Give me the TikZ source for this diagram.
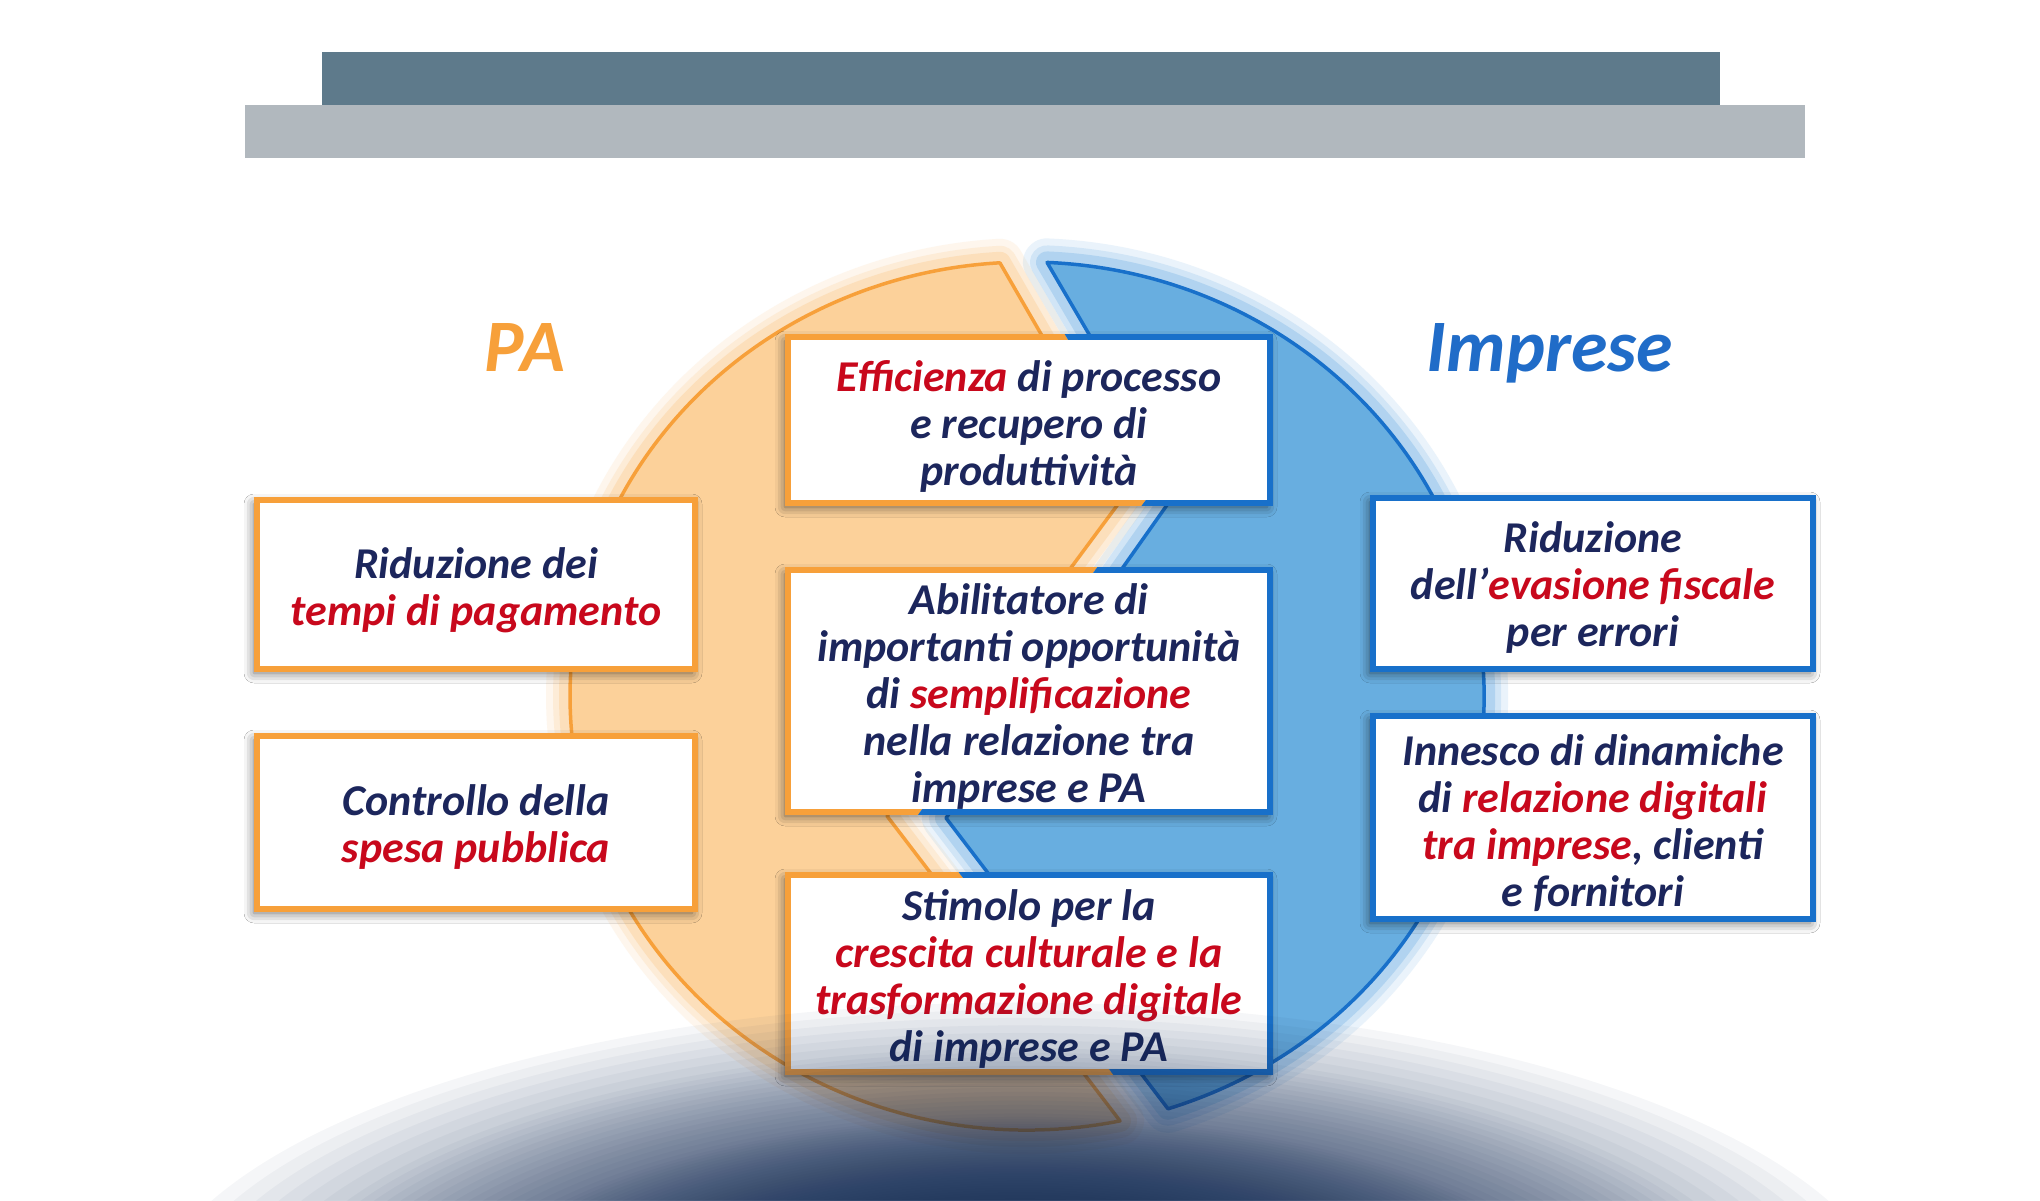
\documentclass[tikz,border=0pt]{standalone}
\usepackage{fontspec}
\setmainfont{Carlito}
\usetikzlibrary{shadows.blur}
\definecolor{navytxt}{RGB}{28,38,92}
\definecolor{redtxt}{RGB}{200,8,28}
\definecolor{orfill}{RGB}{252,209,154}
\definecolor{orline}{RGB}{247,160,58}
\definecolor{orglow}{RGB}{251,196,130}
\definecolor{bluefill}{RGB}{104,174,224}
\definecolor{blueline}{RGB}{24,112,202}
\definecolor{blueglow}{RGB}{110,176,228}
\definecolor{bardark}{RGB}{94,122,139}
\definecolor{barlight}{RGB}{177,184,190}
\definecolor{glownavy}{RGB}{22,46,88}
\definecolor{imprblue}{RGB}{32,108,200}
\newcommand\redw[1]{\textcolor{redtxt}{#1}}
\def\orangepath{(999.9,262.8) -- (1130,488) -- (887,816) -- (1120.0,1120.9) arc[start angle=78.26, end angle=266.6, x radius=457, y radius=434] -- cycle}
\def\bluepath{(1047,262.4) -- (1179,488) -- (946,818) -- (1168,1108.8) arc[start angle=72.03, end angle=-87.49, x radius=457, y radius=434] -- cycle}
\def\leftregion{(0,0) -- (870,0) -- (1023,262.6) -- (1154.5,488) -- (916.5,817) -- (1209,1200) -- (0,1200) -- cycle}
\def\rightregion{(2040,0) -- (870,0) -- (1023,262.6) -- (1154.5,488) -- (916.5,817) -- (1209,1200) -- (2040,1200) -- cycle}
\tikzset{
  txt/.style={font=\fontsize{44}{47}\selectfont\bfseries\itshape, text=navytxt, align=center, inner sep=0pt},
  box/.style={rectangle, fill=white, inner sep=0pt,
    blur shadow={shadow xshift=-3pt, shadow yshift=-4pt, shadow blur radius=10pt, shadow opacity=60}},
  boxline/.style={line width=6, line join=miter},
  title/.style={font=\fontsize{74}{80}\selectfont\bfseries\itshape, anchor=base}
}
\begin{document}
\begin{tikzpicture}[x=1pt,y=-1pt]
\useasboundingbox (0,0) rectangle (2040,1200);
\begin{scope}
\clip (0,0) rectangle (2040,1200);
\fill[white] (0,0) rectangle (2040,1200);
% header bars
\fill[barlight] (245,105) rectangle (1805,158);
\fill[bardark] (322,52) rectangle (1720,105);
% glows of the two halves
\foreach \w/\o in {48/0.14, 34/0.2, 22/0.32}{
  \draw[orglow, line width=\w, line join=round, draw opacity=\o] \orangepath;
  \draw[blueglow, line width=\w, line join=round, draw opacity=\o] \bluepath;
}
% two halves
\filldraw[fill=orfill, draw=orline, line width=3.5, line join=round] \orangepath;
\filldraw[fill=bluefill, draw=blueline, line width=3.5, line join=round] \bluepath;
% boxes
\node[box, minimum width=482, minimum height=166] (nEff) at (1029,420) {};
\node[box, minimum width=482, minimum height=242] (nAbil) at (1029,691) {};
\node[box, minimum width=482, minimum height=197] (nStim) at (1029,973.5) {};
\node[box, minimum width=438, minimum height=169] (nRidL) at (476,584.5) {};
\node[box, minimum width=438, minimum height=173] (nCtrl) at (476,822.5) {};
\node[box, minimum width=440, minimum height=171] (nRidR) at (1593,583.5) {};
\node[box, minimum width=440, minimum height=203] (nInn) at (1593,817.5) {};
% box texts
\node[txt] (xEff) at ([yshift=-6pt]nEff.center)
  {\redw{Efficienza} di processo\\e recupero di\\produttività};
\node[txt] (xAbil) at ([yshift=-6pt]nAbil.center)
  {Abilitatore di\\importanti opportunità\\di \redw{semplificazione}\\nella relazione tra\\imprese e PA};
\node[txt] (xStim) at ([yshift=-5pt]nStim.center)
  {Stimolo per la\\\redw{crescita culturale e la}\\\redw{trasformazione digitale}\\di imprese e PA};
\node[txt] (xRidL) at ([yshift=-6pt]nRidL.center)
  {Riduzione dei\\\redw{tempi di pagamento}};
\node[txt] (xCtrl) at ([yshift=-5pt]nCtrl.center)
  {Controllo della\\\redw{spesa pubblica}};
\node[txt] (xRidR) at ([yshift=-4pt]nRidR.center)
  {Riduzione\\dell’\redw{evasione fiscale}\\per errori};
\node[txt] (xInn) at ([yshift=-6pt]nInn.center)
  {Innesco di dinamiche\\di \redw{relazione digitali}\\\redw{tra imprese}, clienti\\e fornitori};
% box borders, coloured by the half behind them
\begin{scope}
  \clip \leftregion;
  \foreach \n in {nEff,nAbil,nStim,nRidL,nCtrl}
    \draw[orline, boxline] (\n.north west) rectangle (\n.south east);
\end{scope}
\begin{scope}
  \clip \rightregion;
  \foreach \n in {nEff,nAbil,nStim,nRidR,nInn}
    \draw[blueline, boxline] (\n.north west) rectangle (\n.south east);
\end{scope}
% bottom glow: many stacked faint ellipses
\foreach \j in {1,...,86}{
  \pgfmathsetmacro\kk{\j*0.0408}
  \pgfmathsetmacro\rr{\kk<0.288 ? 1-0.5556*\kk : (\kk<0.916 ? 0.84-0.3185*(\kk-0.288) : (\kk<2.3 ? 0.64-0.1734*(\kk-0.916) : 0.4-0.3333*(\kk-2.3)))}
  \fill[glownavy, fill opacity=0.04] (1020,1330) ellipse [x radius=900*\rr, y radius=335*\rr];
}
% titles
\node[title, text=orline] (tPA) at (525,371) {PA};
\node[title, text=imprblue] (tImp) at (1550,371) {Imprese};
\end{scope}
\end{tikzpicture}
\end{document}
